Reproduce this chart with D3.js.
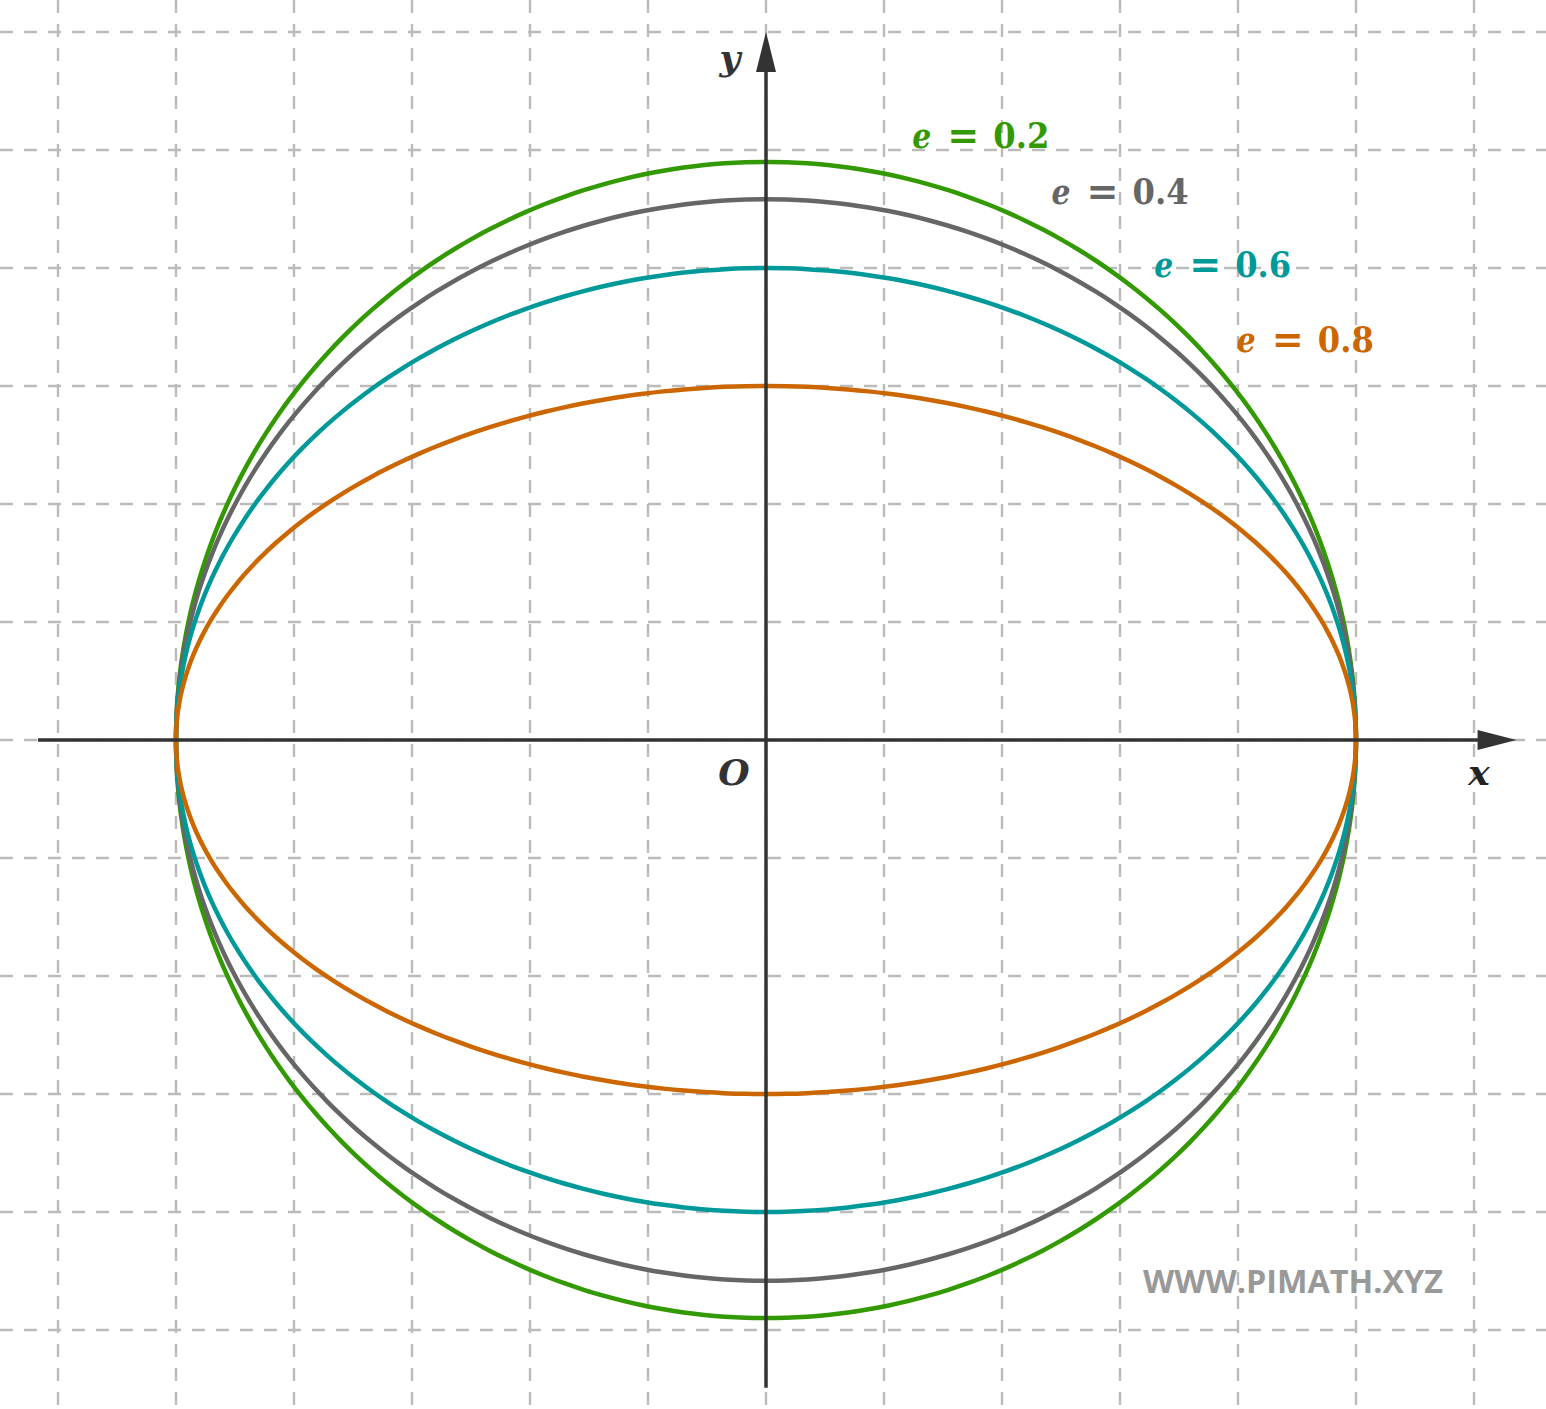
<!DOCTYPE html>
<html>
<head>
<meta charset="utf-8">
<script src="https://cdn.jsdelivr.net/npm/d3@7"></script>
<style>
  html, body { margin: 0; padding: 0; background: #fff; }
  svg { display: block; }
</style>
</head>
<body>
<div id="chart"></div>
<script>
// eccentricities of the ellipses, all with the same semi-major axis
const eccentricities = [0.2, 0.4, 0.6, 0.8];
const semiMajor = 5;
const curveColors = ["#339900", "#666666", "#009999", "#cc6600"];
const labelTexts = ["0.2", "0.4", "0.6", "0.8"];
// label anchor points in data units (left edge, baseline)
const labelX = [1.24, 2.42, 3.29, 3.99];
const labelY = [5.02, 4.54, 3.92, 3.29];

// grid lines
const gridX = d3.range(-6, 7);
const gridY = d3.range(-5, 7);

const width = 1546, height = 1409;

// one unit = 118px, origin at (766, 740)
const x = d3.scaleLinear().domain([-5, 5]).range([176, 1356]);
const y = d3.scaleLinear().domain([-5, 5]).range([1330, 150]);

const svg = d3.select("#chart").append("svg")
  .attr("width", width)
  .attr("height", height);

// grid
const grid = svg.append("g")
  .attr("stroke", "#bbbbbb")
  .attr("stroke-width", 2.4)
  .attr("stroke-dasharray", "13,11");

grid.selectAll("line.v").data(gridX).enter().append("line")
  .attr("class", "v")
  .attr("x1", d => x(d)).attr("x2", d => x(d))
  .attr("y1", 0).attr("y2", height);

grid.selectAll("line.h").data(gridY).enter().append("line")
  .attr("class", "h")
  .attr("y1", d => y(d)).attr("y2", d => y(d))
  .attr("x1", 0).attr("x2", width);

// ellipses
const ts = d3.range(0, 360, 2).map(t => t * Math.PI / 180);
const line = d3.line()
  .x(p => x(p[0]))
  .y(p => y(p[1]))
  .curve(d3.curveCardinalClosed);

svg.append("g").selectAll("path")
  .data(eccentricities)
  .enter().append("path")
  .attr("fill", "none")
  .attr("stroke", (d, i) => curveColors[i])
  .attr("stroke-width", 4.5)
  .attr("d", e => {
    const b = semiMajor * Math.sqrt(1 - e * e);
    return line(ts.map(t => [semiMajor * Math.cos(t), b * Math.sin(t)]));
  });

// axes
const axisColor = "#333333";
const axes = svg.append("g");
axes.append("line")
  .attr("x1", x(-6.17)).attr("x2", x(6.1))
  .attr("y1", y(0)).attr("y2", y(0))
  .attr("stroke", axisColor).attr("stroke-width", 3.5);
axes.append("path")
  .attr("d", `M${x(6.36)},${y(0)} L${x(6.03)},${y(0) - 10} L${x(6.03)},${y(0) + 10} Z`)
  .attr("fill", axisColor);

axes.append("line")
  .attr("x1", x(0)).attr("x2", x(0))
  .attr("y1", y(-5.49)).attr("y2", y(5.8))
  .attr("stroke", axisColor).attr("stroke-width", 3.5);
axes.append("path")
  .attr("d", `M${x(0)},${y(6)} L${x(0) - 10},${y(5.66)} L${x(0) + 10},${y(5.66)} Z`)
  .attr("fill", axisColor);

const mathFont = "'DejaVu Serif', 'Liberation Serif', serif";

axes.append("text")
  .attr("x", 730).attr("y", 70)
  .attr("text-anchor", "middle")
  .attr("font-family", mathFont)
  .attr("font-style", "italic").attr("font-weight", "bold")
  .attr("font-size", 36)
  .attr("fill", axisColor)
  .text("y");

axes.append("text")
  .attr("x", 734).attr("y", 785)
  .attr("text-anchor", "middle")
  .attr("font-family", mathFont)
  .attr("font-style", "italic").attr("font-weight", "bold")
  .attr("font-size", 36)
  .attr("fill", axisColor)
  .text("O");

axes.append("text")
  .attr("x", 1479).attr("y", 785)
  .attr("text-anchor", "middle")
  .attr("font-family", mathFont)
  .attr("font-style", "italic").attr("font-weight", "bold")
  .attr("font-size", 36)
  .attr("fill", "#222")
  .text("x");

// labels "e = 0.x"
const labels = svg.append("g")
  .attr("font-family", mathFont)
  .attr("font-size", 36);

eccentricities.forEach((e, i) => {
  const lx = x(labelX[i]), ly = y(labelY[i]);
  const g = labels.append("g").attr("fill", curveColors[i]);
  g.append("text")
    .attr("x", lx).attr("y", ly)
    .attr("font-style", "italic").attr("font-weight", "bold")
    .attr("textLength", 19).attr("lengthAdjust", "spacingAndGlyphs")
    .text("e");
  g.append("text")
    .attr("x", lx + 35).attr("y", ly + 1)
    .attr("font-weight", "bold")
    .attr("font-size", 40)
    .attr("textLength", 32).attr("lengthAdjust", "spacingAndGlyphs")
    .text("=");
  g.append("text")
    .attr("x", lx + 81).attr("y", ly)
    .attr("font-weight", "bold")
    .attr("textLength", 56).attr("lengthAdjust", "spacingAndGlyphs")
    .text(labelTexts[i]);
});

// watermark
svg.append("text")
  .attr("x", 1143).attr("y", 1293)
  .attr("font-family", "'Open Sans', sans-serif")
  .attr("font-weight", "bold")
  .attr("font-size", 32)
  .attr("fill", "#999999")
  .attr("textLength", 300).attr("lengthAdjust", "spacingAndGlyphs")
  .text("WWW.PIMATH.XYZ");
</script>
</body>
</html>
